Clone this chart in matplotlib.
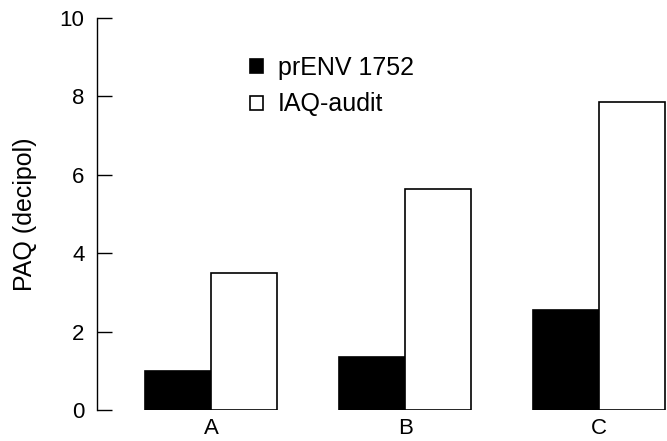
import matplotlib
matplotlib.use("Agg")
import matplotlib.pyplot as plt
import numpy as np

# Perceived air quality per building
categories = ["A", "B", "C"]
prenv_1752 = [1.0, 1.35, 2.55]
iaq_audit = [3.5, 5.65, 7.85]
series_names = ["prENV 1752", "IAQ-audit"]
y_ticks = [0, 2, 4, 6, 8, 10]

plt.rcParams["font.family"] = ["Liberation Sans", "DejaVu Sans"]
plt.rcParams["font.size"] = 17

fig = plt.figure(figsize=(6.67, 4.41), dpi=100)
ax = fig.add_axes([97 / 667, 31 / 441, 570 / 667, 392 / 441])

x = np.arange(len(categories))
width = 0.34
edge = dict(edgecolor="black", linewidth=1.2)
b1 = ax.bar(x - width / 2, prenv_1752, width, color="black", label=series_names[0], **edge)
b2 = ax.bar(x + width / 2, iaq_audit, width, color="white", label=series_names[1], **edge)

ax.set_xlim(-0.588, 2.35)
ax.set_ylim(0, 10)
ax.set_yticks(y_ticks)
ax.set_xticks(x)
ax.set_xticklabels(categories)

for side in ("top", "right", "bottom"):
    ax.spines[side].set_visible(False)
ax.spines["left"].set_linewidth(1.0)

ax.tick_params(axis="y", direction="in", length=11, width=1.0, pad=9, labelsize=16)
ax.tick_params(axis="x", length=0, pad=6, labelsize=16)

ax.set_ylabel("PAQ (decipol)", fontsize=18, labelpad=16)

ax.legend(handles=[b1, b2], loc="upper left", bbox_to_anchor=(250 / 667, 1 - 56 / 441),
          bbox_transform=fig.transFigure, frameon=False, handlelength=0.5,
          handleheight=0.5, handletextpad=0.6, labelspacing=0.5,
          fontsize=18, borderpad=0, borderaxespad=0)

fig.savefig("out.png", dpi=100)
